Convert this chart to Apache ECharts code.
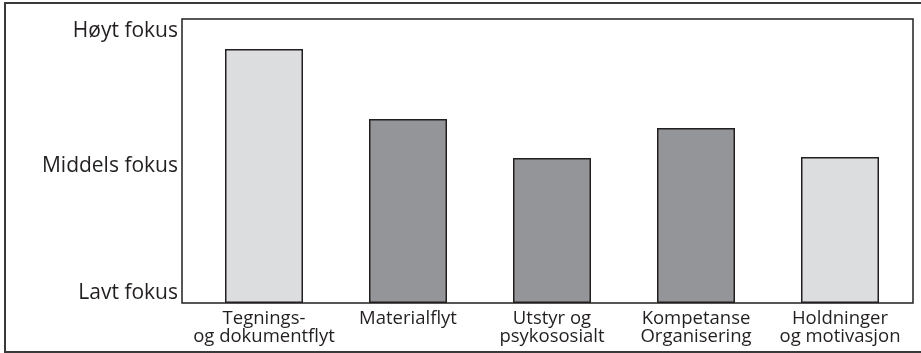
<!DOCTYPE html>
<html>
<head>
<meta charset="utf-8">
<script src="https://cdn.jsdelivr.net/npm/echarts@6/dist/echarts.min.js"></script>
<style>
  html, body { margin: 0; padding: 0; background: #fff; }
  #chart { width: 921px; height: 353px; }
</style>
</head>
<body>
<div id="chart"></div>
<script>
// kategorier og verdier (skala 0-10)
const categories = [
  'Tegnings-\nog dokumentflyt',
  'Materialflyt',
  'Utstyr og\npsykososialt',
  'Kompetanse\nOrganisering',
  'Holdninger\nog motivasjon'
]
const values = [8.94, 6.48, 5.11, 6.16, 5.14]
const tickValues = [0.35, 4.82, 9.58]
const tickLabels = ['Lavt fokus', 'Middels fokus', 'Høyt fokus']

const LIGHT = '#dcdddf'
const DARK = '#939598'
const barColors = [LIGHT, DARK, DARK, DARK, LIGHT]
const FONT = '"Open Sans", sans-serif'

const chart = echarts.init(document.getElementById('chart'))
const option = {
  animation: false,
  backgroundColor: '#fff',
  grid: {
    left: 192,
    right: 9,
    top: 19,
    bottom: 50
  },
  graphic: [
    { // ytre ramme
      type: 'rect',
      shape: { x: 5, y: 3, width: 920, height: 349 },
      style: { fill: 'none', stroke: '#3a3a3a', lineWidth: 2 }
    },
    { // plottramme
      type: 'rect',
      shape: { x: 182, y: 19, width: 731, height: 284 },
      style: { fill: 'none', stroke: '#231f20', lineWidth: 1.5 },
      z: 10
    }
  ],
  xAxis: {
    type: 'category',
    data: categories,
    axisLine: { show: false },
    axisTick: { show: false },
    axisLabel: {
      interval: 0,
      color: '#231f20',
      fontFamily: FONT,
      fontSize: 18.5,
      lineHeight: 18,
      margin: 7
    }
  },
  yAxis: {
    type: 'value',
    min: 0,
    max: 10,
    axisLine: { show: false },
    axisTick: { show: false },
    splitLine: { show: false },
    axisLabel: {
      customValues: tickValues,
      formatter: function(v) {
        const i = tickValues.indexOf(v)
        return i >= 0 ? tickLabels[i] : ''
      },
      color: '#231f20',
      fontFamily: FONT,
      fontSize: 21,
      margin: 14
    }
  },
  series: [{
    type: 'bar',
    data: values,
    barWidth: 78,
    itemStyle: {
      color: function(p) { return barColors[p.dataIndex] },
      borderColor: '#231f20',
      borderWidth: 1.5
    }
  }]
}
chart.setOption(option)
window.addEventListener('resize', () => {
  chart.resize()
})
</script>
</body>
</html>
